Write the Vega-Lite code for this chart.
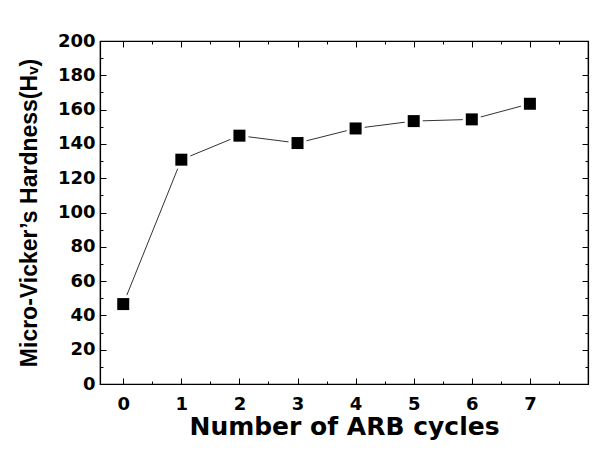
{
  "$schema": "https://vega.github.io/schema/vega-lite/v6.json",
  "autosize": "none",
  "width": 488,
  "height": 343,
  "padding": {"left": 100, "top": 41, "right": 23, "bottom": 77},
  "background": "white",
  "config": {
    "view": {"stroke": "black", "strokeWidth": 1.2},
    "axis": {
      "domainColor": "black",
      "domainWidth": 1.2,
      "tickColor": "black",
      "tickWidth": 1,
      "grid": false,
      "labelFont": "DejaVu Sans",
      "labelFontWeight": "bold",
      "labelFontSize": 18,
      "labelColor": "black",
      "titleFont": "Liberation Sans",
      "titleFontWeight": "bold",
      "titleColor": "black"
    }
  },
  "data": {
    "values": [
      {"cycles": 0, "hv": 46.6},
      {"cycles": 1, "hv": 130.8},
      {"cycles": 2, "hv": 144.8},
      {"cycles": 3, "hv": 140.5},
      {"cycles": 4, "hv": 149.0},
      {"cycles": 5, "hv": 153.3},
      {"cycles": 6, "hv": 154.3},
      {"cycles": 7, "hv": 163.4}
    ]
  },
  "resolve": {"axis": {"x": "independent", "y": "independent"}},
  "layer": [
    {
      "mark": {"type": "line", "color": "#333333", "strokeWidth": 1},
      "encoding": {
        "x": {
          "field": "cycles", "type": "quantitative",
          "scale": {"domain": [-0.4, 8], "nice": false, "zero": false},
          "axis": {
            "orient": "bottom", "values": [0, 1, 2, 3, 4, 5, 6, 7],
            "tickSize": -6, "labelPadding": 17, "labelFlush": false,
            "title": "Number of ARB cycles", "titleFont": "DejaVu Sans", "titleFontSize": 25, "titlePadding": 1
          }
        },
        "y": {
          "field": "hv", "type": "quantitative",
          "scale": {"domain": [0, 200], "nice": false},
          "axis": {
            "orient": "left", "values": [0, 20, 40, 60, 80, 100, 120, 140, 160, 180, 200],
            "tickSize": -6, "labelPadding": 11, "labelFlush": false,
            "title": "Micro-Vicker’s Hardness(Hᵥ)", "titleFontSize": 23, "titlePadding": 16
          }
        }
      }
    },
    {
      "mark": {"type": "square", "color": "white", "opacity": 1, "size": 324},
      "encoding": {
        "x": {
          "field": "cycles", "type": "quantitative",
          "axis": {
            "orient": "bottom", "values": [-0.5, 0.5, 1.5, 2.5, 3.5, 4.5, 5.5, 6.5, 7.5],
            "tickSize": -3, "labels": false, "domain": false, "title": null
          }
        },
        "y": {
          "field": "hv", "type": "quantitative",
          "axis": {
            "orient": "left", "values": [10, 30, 50, 70, 90, 110, 130, 150, 170, 190],
            "tickSize": -3, "labels": false, "domain": false, "title": null
          }
        }
      }
    },
    {
      "mark": {"type": "square", "color": "black", "opacity": 1, "size": 144},
      "encoding": {
        "x": {
          "field": "cycles", "type": "quantitative",
          "axis": {
            "orient": "top", "values": [0, 1, 2, 3, 4, 5, 6, 7],
            "tickSize": -6, "labels": false, "title": null
          }
        },
        "y": {
          "field": "hv", "type": "quantitative",
          "axis": {
            "orient": "right", "values": [0, 20, 40, 60, 80, 100, 120, 140, 160, 180, 200],
            "tickSize": -6, "labels": false, "title": null
          }
        }
      }
    },
    {
      "mark": {"type": "square", "color": "black", "opacity": 0, "size": 144},
      "encoding": {
        "x": {
          "field": "cycles", "type": "quantitative",
          "axis": {
            "orient": "top", "values": [-0.5, 0.5, 1.5, 2.5, 3.5, 4.5, 5.5, 6.5, 7.5],
            "tickSize": -3, "labels": false, "domain": false, "title": null
          }
        },
        "y": {
          "field": "hv", "type": "quantitative",
          "axis": {
            "orient": "right", "values": [10, 30, 50, 70, 90, 110, 130, 150, 170, 190],
            "tickSize": -3, "labels": false, "domain": false, "title": null
          }
        }
      }
    }
  ]
}
